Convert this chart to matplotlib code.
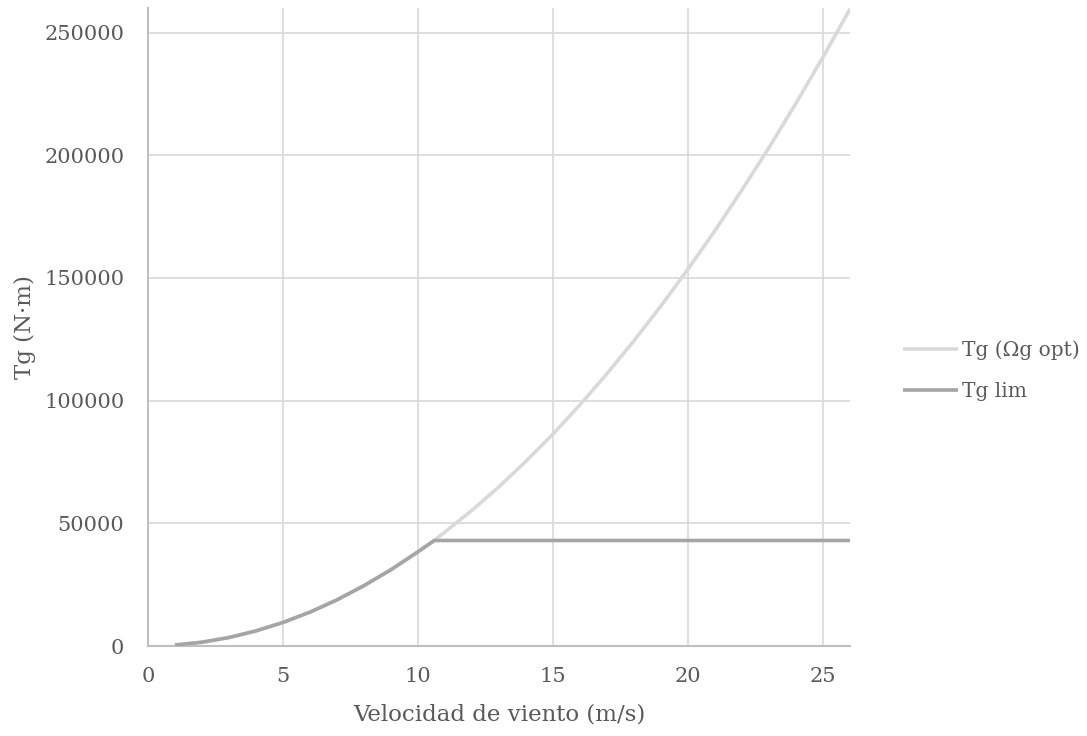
import matplotlib
matplotlib.use("Agg")
import matplotlib.pyplot as plt

# Data
wind_speed = [1, 2, 3, 4, 5, 6, 7, 8, 9, 10, 10.6, 11, 12, 13, 14, 15, 16, 17, 18,
              19, 20, 21, 22, 23, 24, 25, 26]
tg_opt = [400, 1550, 3450, 6150, 9600, 13800, 18800, 24600, 31100, 38400, 43000,
          46500, 55300, 64900, 75300, 86400, 98300, 111000, 124400, 138600,
          153600, 169300, 185900, 203100, 221200, 240000, 259600]
tg_lim = [400, 1550, 3450, 6150, 9600, 13800, 18800, 24600, 31100, 38400, 43000,
          43000, 43000, 43000, 43000, 43000, 43000, 43000, 43000, 43000,
          43000, 43000, 43000, 43000, 43000, 43000, 43000]
x_ticks = [0, 5, 10, 15, 20, 25]
y_ticks = [0, 50000, 100000, 150000, 200000, 250000]

plt.rcParams['font.family'] = ['DejaVu Serif']
text_color = '#595959'

fig = plt.figure(figsize=(10.87, 7.36), dpi=100)
ax = fig.add_axes([148/1087, 1-646/736, (850-148)/1087, (646-8)/736])

ax.plot(wind_speed, tg_opt, color='#d9d9d9', lw=2.6, label='Tg (Ωg opt)', solid_capstyle='butt', zorder=3)
ax.plot(wind_speed, tg_lim, color='#a5a5a5', lw=2.6, label='Tg lim', solid_capstyle='butt', zorder=4)

ax.set_xlim(0, 26)
ax.set_ylim(0, 260000)
ax.set_xticks(x_ticks)
ax.set_yticks(y_ticks)
ax.set_xticklabels([str(v) for v in x_ticks])
ax.set_yticklabels([str(v) for v in y_ticks])
ax.grid(True, color='#d9d9d9', lw=1.2, zorder=0)
ax.set_axisbelow(True)
for s in ['top', 'right']:
    ax.spines[s].set_visible(False)
for s in ['left', 'bottom']:
    ax.spines[s].set_color('#bfbfbf')
    ax.spines[s].set_linewidth(1.5)
ax.tick_params(axis='y', length=0, labelsize=15, colors=text_color, pad=17)
ax.tick_params(axis='x', length=0, labelsize=15, colors=text_color, pad=15)
ax.set_xlabel('Velocidad de viento (m/s)', fontsize=16.5, color=text_color, labelpad=13)
ax.set_ylabel('Tg (N·m)', fontsize=16.5, color=text_color, labelpad=6)

leg = fig.legend(loc='center left', bbox_to_anchor=(885/1087, 1-371/736), frameon=False,
                 fontsize=14.5, labelcolor=text_color, handlelength=2.7, handletextpad=0.2,
                 labelspacing=1.1)

fig.savefig('out.png', dpi=100)
